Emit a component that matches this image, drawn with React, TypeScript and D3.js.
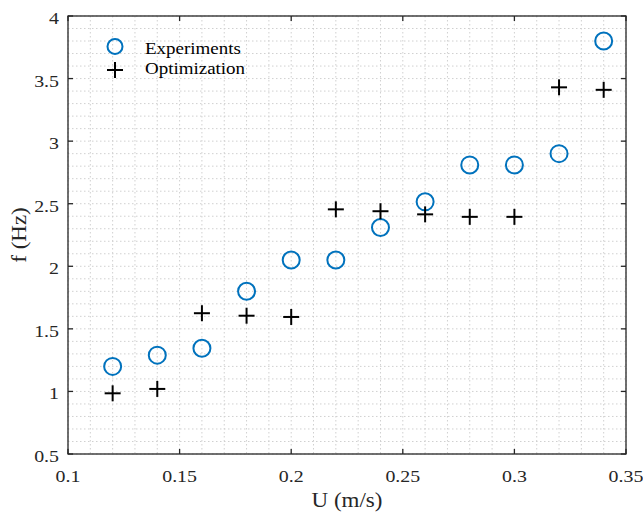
import React from 'react';
import * as d3 from 'd3';

const speeds = [0.12, 0.14, 0.16, 0.18, 0.2, 0.22, 0.24, 0.26, 0.28, 0.3, 0.32, 0.34];
const experiments = [1.2, 1.29, 1.345, 1.8, 2.05, 2.05, 2.31, 2.515, 2.81, 2.81, 2.9, 3.8];
const optimization = [0.985, 1.02, 1.625, 1.605, 1.595, 2.455, 2.44, 2.415, 2.395, 2.395, 3.43, 3.41];
const xTicks = [0.1, 0.15, 0.2, 0.25, 0.3, 0.35];
const yTicks = [0.5, 1, 1.5, 2, 2.5, 3, 3.5, 4];
const legendLabels = ['Experiments', 'Optimization'];

const W = 643;
const H = 514;
const m = { left: 68, top: 16, right: 626, bottom: 454 };
const blue = '#0072BD';
const axisCol = '#262626';
const font = '"Liberation Serif", "Times New Roman", serif';
const SX = 1.15; // reference glyphs are a bit wider than Liberation Serif

// text stretched along its own direction
function T(props: { x: number; y: number; size: number; anchor?: string; rot?: number; fill?: string; children: React.ReactNode }) {
  const { x, y, size, anchor = 'start', rot = 0, fill = axisCol, children } = props;
  return (
    <text transform={`translate(${x},${y}) rotate(${rot}) scale(${SX},1)`} textAnchor={anchor}
      fontFamily={font} fontSize={size} fill={fill}>{children}</text>
  );
}

export default function App() {
  const x = d3.scaleLinear().domain([0.1, 0.35]).range([m.left, m.right]);
  const y = d3.scaleLinear().domain([0.5, 4]).range([m.bottom, m.top]);

  const xMinor = d3.range(0.1, 0.3501, 0.01).map(v => +v.toFixed(2));
  const yMinor = d3.range(0.5, 4.001, 0.1).map(v => +v.toFixed(1));

  const plus = (cx: number, cy: number, key: string) => (
    <g key={key} stroke="#000" strokeWidth={2}>
      <line x1={cx - 8} x2={cx + 8} y1={cy} y2={cy} />
      <line x1={cx} x2={cx} y1={cy - 8} y2={cy + 8} />
    </g>
  );

  return (
    <svg width={W} height={H} style={{ position: 'absolute', left: 0, top: 0, background: '#fff' }}>
      <rect x={0} y={0} width={W} height={H} fill="#fff" />
      {/* grid */}
      <g stroke="#d0d0d0" strokeWidth={1} strokeDasharray="1.5,2.5">
        {xMinor.map(v => (
          <line key={'gx' + v} x1={x(v)} x2={x(v)} y1={m.top} y2={m.bottom} />
        ))}
        {yMinor.map(v => (
          <line key={'gy' + v} x1={m.left} x2={m.right} y1={y(v)} y2={y(v)} />
        ))}
      </g>
      {/* box and ticks */}
      <rect x={m.left} y={m.top} width={m.right - m.left} height={m.bottom - m.top}
        fill="none" stroke={axisCol} strokeWidth={1.3} />
      <g stroke={axisCol} strokeWidth={1.3}>
        {xTicks.map(v => (
          <g key={'tx' + v}>
            <line x1={x(v)} x2={x(v)} y1={m.bottom} y2={m.bottom - 5} />
            <line x1={x(v)} x2={x(v)} y1={m.top} y2={m.top + 5} />
          </g>
        ))}
        {yTicks.map(v => (
          <g key={'ty' + v}>
            <line x1={m.left} x2={m.left + 5} y1={y(v)} y2={y(v)} />
            <line x1={m.right} x2={m.right - 5} y1={y(v)} y2={y(v)} />
          </g>
        ))}
      </g>
      {/* tick labels */}
      {xTicks.map(v => (
        <T key={'lx' + v} x={x(v)} y={482} size={17.3} anchor="middle">{String(v)}</T>
      ))}
      {yTicks.map(v => (
        <T key={'ly' + v} x={59} y={y(v) + 8} size={17.3} anchor="end">{String(v)}</T>
      ))}
      <T x={(m.left + m.right) / 2} y={507} size={20} anchor="middle">U (m/s)</T>
      <T x={26} y={235} size={20} anchor="middle" rot={-90}>f (Hz)</T>
      {/* data */}
      {speeds.map((s, i) => (
        <circle key={'c' + i} cx={x(s)} cy={y(experiments[i])} r={8.5} fill="none" stroke={blue} strokeWidth={2} />
      ))}
      {speeds.map((s, i) => plus(x(s), y(optimization[i]), 'p' + i))}
      {/* legend */}
      <circle cx={115} cy={46.5} r={7.5} fill="none" stroke={blue} strokeWidth={2} />
      {plus(115, 70, 'legp')}
      <T x={145} y={54} size={16.5} fill="#000">{legendLabels[0]}</T>
      <T x={145} y={74} size={16.5} fill="#000">{legendLabels[1]}</T>
    </svg>
  );
}
